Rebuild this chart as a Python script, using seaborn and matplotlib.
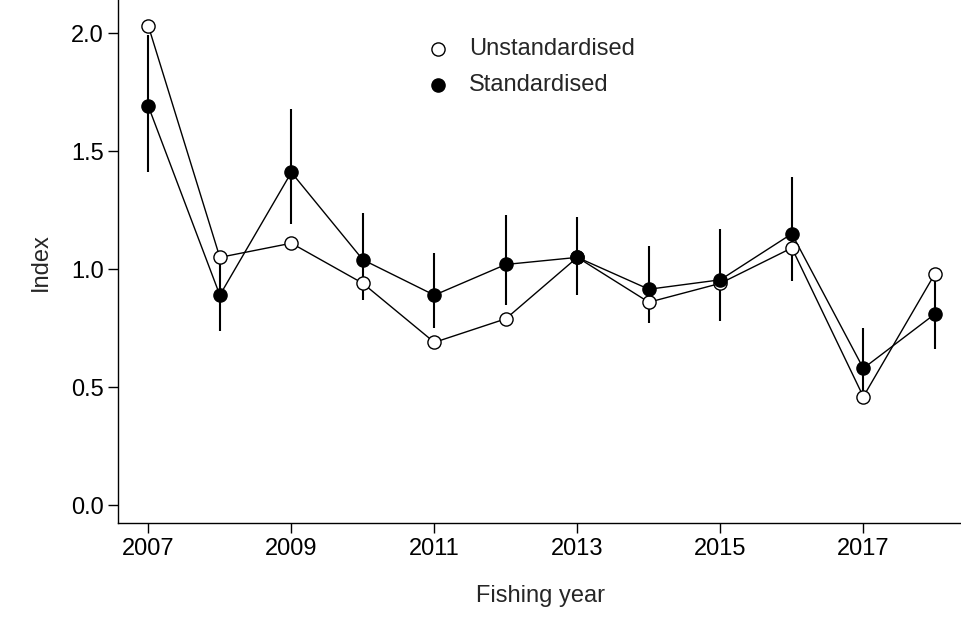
import numpy as np
import pandas as pd
import matplotlib
matplotlib.use("Agg")
import matplotlib.pyplot as plt
import seaborn as sns

years = [2007, 2008, 2009, 2010, 2011, 2012, 2013, 2014, 2015, 2016, 2017, 2018]
unstd = [2.03, 1.05, 1.11, 0.94, 0.69, 0.79, 1.05, 0.86, 0.94, 1.09, 0.46, 0.98]
std = [1.69, 0.89, 1.41, 1.04, 0.89, 1.02, 1.05, 0.915, 0.955, 1.15, 0.58, 0.81]
lower = [1.41, 0.74, 1.19, 0.87, 0.75, 0.85, 0.89, 0.77, 0.78, 0.95, 0.45, 0.66]
upper = [1.99, 1.03, 1.68, 1.24, 1.07, 1.23, 1.22, 1.10, 1.17, 1.39, 0.75, 0.98]

sns.set_style("ticks")
plt.rcParams['font.family'] = ['Liberation Sans', 'DejaVu Sans']

df = pd.DataFrame({"year": years, "unstd": unstd, "std": std})

fig = plt.figure(figsize=(9.62, 6.35), dpi=100)
ax = fig.add_axes([0.123, 0.176, 0.877, 0.824])

ax.vlines(years, lower, upper, color="black", lw=1.5, zorder=1)
sns.lineplot(data=df, x="year", y="unstd", ax=ax, color="black", lw=1, zorder=2)
sns.lineplot(data=df, x="year", y="std", ax=ax, color="black", lw=1, zorder=2)
ax.scatter(years, unstd, s=90, facecolor="white", edgecolor="black", lw=1, zorder=3,
           label="Unstandardised")
ax.scatter(years, std, s=90, facecolor="black", edgecolor="black", lw=1, zorder=4,
           label="Standardised")

ax.set_xlim(2006.58, 2018.38)
ax.set_ylim(-0.076, 2.14)
ax.set_xticks([2007, 2009, 2011, 2013, 2015, 2017])
ax.set_yticks([0.0, 0.5, 1.0, 1.5, 2.0])
ax.set_yticklabels(["0.0", "0.5", "1.0", "1.5", "2.0"])
ax.tick_params(labelsize=17, length=7, width=1, colors="black")
ax.set_xlabel("Fishing year", fontsize=17, labelpad=18)
ax.set_ylabel("Index", fontsize=17, labelpad=14)
for s in ["top", "right"]:
    ax.spines[s].set_visible(False)
for s in ["left", "bottom"]:
    ax.spines[s].set_linewidth(1)
    ax.spines[s].set_color("black")
ax.legend(loc="upper left", bbox_to_anchor=(0.312, 0.99), frameon=False, fontsize=17,
          handletextpad=0.3, labelspacing=0.6, borderaxespad=1.0)

fig.savefig("out.png", dpi=100)
